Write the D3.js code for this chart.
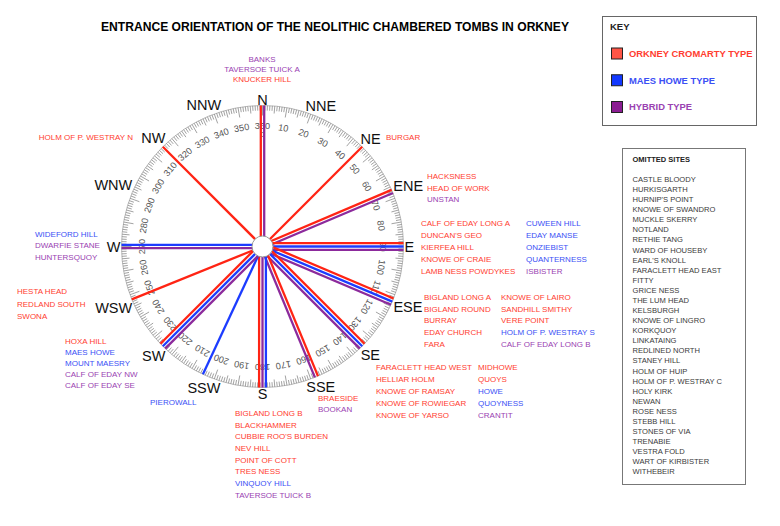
<!DOCTYPE html>
<html>
<head>
<meta charset="utf-8">
<script src="https://cdn.jsdelivr.net/npm/d3@7"></script>
<style>
  body { margin: 0; background: #fff; }
  text { font-family: Arial, "Liberation Sans", Helvetica, sans-serif; }
</style>
</head>
<body>
<svg id="chart" width="780" height="526"></svg>
<script>
// ---- data ----
const compassPoints = ["N", "NNE", "NE", "ENE", "E", "ESE", "SE", "SSE",
  "S", "SSW", "SW", "WSW", "W", "WNW", "NW", "NNW"];
const degreeLabels = d3.range(10, 360, 10);
const typeKeys = ["OC", "MH", "HY"];
const typeNames = ["ORKNEY CROMARTY TYPE", "MAES HOWE TYPE", "HYBRID TYPE"];

// name, type, bearing (degrees) - in the order they are listed on the chart
const siteNames = [
  "BANKS", "TAVERSOE TUICK A", "KNUCKER HILL",
  "BURGAR",
  "HACKSNESS", "HEAD OF WORK", "UNSTAN",
  "CALF OF EDAY LONG A", "DUNCAN'S GEO", "KIERFEA HILL", "KNOWE OF CRAIE", "LAMB NESS POWDYKES",
  "CUWEEN HILL", "EDAY MANSE", "ONZIEBIST", "QUANTERNESS", "ISBISTER",
  "BIGLAND LONG A", "BIGLAND ROUND", "BURRAY", "EDAY CHURCH", "FARA",
  "KNOWE OF LAIRO", "SANDHILL SMITHY", "VERE POINT", "HOLM OF P. WESTRAY S", "CALF OF EDAY LONG B",
  "FARACLETT HEAD WEST", "HELLIAR HOLM", "KNOWE OF RAMSAY", "KNOWE OF ROWIEGAR", "KNOWE OF YARSO",
  "MIDHOWE", "QUOYS", "HOWE", "QUOYNESS", "CRANTIT",
  "BRAESIDE", "BOOKAN",
  "BIGLAND LONG B", "BLACKHAMMER", "CUBBIE ROO'S BURDEN", "NEV HILL", "POINT OF COTT",
  "TRES NESS", "VINQUOY HILL", "TAVERSOE TUICK B",
  "PIEROWALL",
  "HOXA HILL", "MAES HOWE", "MOUNT MAESRY", "CALF OF EDAY NW", "CALF OF EDAY SE",
  "HESTA HEAD", "REDLAND SOUTH", "SWONA",
  "WIDEFORD HILL", "DWARFIE STANE", "HUNTERSQUOY",
  "HOLM OF P. WESTRAY N"
];
const siteTypes = [
  "HY", "HY", "OC",
  "OC",
  "OC", "OC", "HY",
  "OC", "OC", "OC", "OC", "OC",
  "MH", "MH", "MH", "MH", "HY",
  "OC", "OC", "OC", "OC", "OC",
  "OC", "OC", "OC", "MH", "HY",
  "OC", "OC", "OC", "OC", "OC",
  "OC", "OC", "MH", "MH", "HY",
  "OC", "HY",
  "OC", "OC", "OC", "OC", "OC",
  "OC", "MH", "HY",
  "MH",
  "OC", "MH", "MH", "HY", "HY",
  "OC", "OC", "OC",
  "MH", "HY", "HY",
  "OC"
];
const siteBearings = [
  0, 0, 0,
  45,
  67, 67, 67,
  90, 90, 90, 90, 90,
  90, 90, 90, 90, 90,
  113, 113, 113, 113, 113,
  113, 113, 113, 113, 113,
  135, 135, 135, 135, 135,
  135, 135, 135, 135, 135,
  157.5, 157.5,
  180, 180, 180, 180, 180,
  180, 180, 180,
  205,
  225, 225, 225, 225, 225,
  248, 248, 248,
  270, 270, 270,
  315
];

const omittedSites = ["CASTLE BLOODY", "HURKISGARTH", "HURNIP'S POINT", "KNOWE OF SWANDRO",
  "MUCKLE SKERRY", "NOTLAND", "RETHIE TANG", "WARD OF HOUSEBY", "EARL'S KNOLL",
  "FARACLETT HEAD EAST", "FITTY", "GRICE NESS", "THE LUM HEAD", "KELSBURGH",
  "KNOWE OF LINGRO", "KORKQUOY", "LINKATAING", "REDLINED NORTH", "STANEY HILL",
  "HOLM OF HUIP", "HOLM OF P. WESTRAY C", "HOLY KIRK", "NEWAN", "ROSE NESS",
  "STEBB HILL", "STONES OF VIA", "TRENABIE", "VESTRA FOLD", "WART OF KIRBISTER", "WITHEBEIR"];

// ---- layout ----
const cx = 262.5, cy = 246.5, R = 141;
const lineColor = { OC: "#ff2414", MH: "#1c3cff", HY: "#8c2a9c" };
const textColor = { OC: "#ff3d30", MH: "#3b4ff5", HY: "#9a42b2" };
const keyFill = { OC: "#ff5546", MH: "#1238ff", HY: "#8b1d92" };
// side-by-side order of the lines (S is drawn red, purple, blue)
const lineOrder = { 180: ["OC", "HY", "MH"] };

// where each bearing's list of names sits
const labelPlace = {
  0:     { x: 262, y: 62, anchor: "middle", step: 10 },
  45:    { x: 386, y: 140, anchor: "start", step: 12 },
  67:    { x: 427, y: 179, anchor: "start", step: 11.7 },
  90:    { x: 421, y: 225.7, anchor: "start", step: 12, rows: 5, col2: 526 },
  113:   { x: 424, y: 299.7, anchor: "start", step: 11.8, rows: 5, col2: 501 },
  135:   { x: 376, y: 369.7, anchor: "start", step: 12, rows: 5, col2: 478 },
  157.5: { x: 318, y: 401.3, anchor: "start", step: 11 },
  180:   { x: 235, y: 416, anchor: "start", step: 11.67 },
  205:   { x: 150, y: 404.7, anchor: "start", step: 11 },
  225:   { x: 65, y: 343.7, anchor: "start", step: 11 },
  248:   { x: 17, y: 294, anchor: "start", step: 12.5 },
  270:   { x: 35, y: 236.7, anchor: "start", step: 11.5 },
  315:   { x: 133, y: 140, anchor: "end", step: 12 }
};

const svg = d3.select("#chart");
const angle = d3.scaleLinear().domain([0, 360]).range([0, 2 * Math.PI]);
const radius = d3.scaleLinear().domain([0, 1]).range([0, R]);
const px = (deg, r) => cx + r * Math.sin(angle(deg));
const py = (deg, r) => cy - r * Math.cos(angle(deg));

// title
svg.append("text")
  .attr("x", 335).attr("y", 31)
  .attr("text-anchor", "middle")
  .attr("font-size", 12.5).attr("font-weight", "bold")
  .attr("textLength", 468).attr("lengthAdjust", "spacingAndGlyphs")
  .text("ENTRANCE ORIENTATION OF THE NEOLITHIC CHAMBERED TOMBS IN ORKNEY");

// degree ring
const ring = svg.append("g");
ring.append("circle").attr("cx", cx).attr("cy", cy).attr("r", R)
  .attr("fill", "none").attr("stroke", "#aaa").attr("stroke-width", 0.8);
const tickLen = d => d % 10 === 0 ? 10 : d % 5 === 0 ? 7.5 : 5;
ring.selectAll("line.tick").data(d3.range(0, 360)).join("line")
  .attr("x1", d => px(d, R))
  .attr("y1", d => py(d, R))
  .attr("x2", d => px(d, R - tickLen(d)))
  .attr("y2", d => py(d, R - tickLen(d)))
  .attr("stroke", "#8a8a8a").attr("stroke-width", 0.8);

ring.selectAll("text.deg").data(degreeLabels.concat([360])).join("text")
  .attr("transform", d => `translate(${px(d, 120.5)},${py(d, 120.5)}) rotate(${d})`)
  .attr("text-anchor", "middle").attr("dy", "0.35em")
  .attr("font-size", 9.2).attr("fill", "#555")
  .text(d => d);
ring.append("text")
  .attr("x", px(0, 112)).attr("y", py(0, 112))
  .attr("text-anchor", "middle").attr("dy", "0.35em")
  .attr("font-size", 7).attr("fill", "#555").text("0");

// site lines: one per type per bearing, offset side by side
const sites = siteNames.map((name, i) => ({ name, type: siteTypes[i], bearing: siteBearings[i] }));
const groups = d3.group(sites, d => d.bearing);
const gap = 3.4;
const lineData = [];
groups.forEach((list, b) => {
  const order = lineOrder[b] || typeKeys;
  const types = order.filter(t => list.some(s => s.type === t));
  const dx = Math.sin(angle(b)), dy = -Math.cos(angle(b));
  let nx = -dy, ny = dx;
  if (ny < -1e-9 || (Math.abs(ny) < 1e-9 && nx < 0)) { nx = -nx; ny = -ny; }
  types.forEach((t, k) => {
    const off = (k - (types.length - 1) / 2) * gap;
    lineData.push({ b, t, ox: nx * off, oy: ny * off });
  });
});
svg.append("g").selectAll("line").data(lineData).join("line")
  .attr("x1", d => cx + d.ox).attr("y1", d => cy + d.oy)
  .attr("x2", d => px(d.b, radius(1)) + d.ox)
  .attr("y2", d => py(d.b, radius(1)) + d.oy)
  .attr("stroke", d => lineColor[d.t]).attr("stroke-width", 2.3);

svg.append("circle").attr("cx", cx).attr("cy", cy).attr("r", 10.5)
  .attr("fill", "#fff").attr("stroke", "#999").attr("stroke-width", 1);

// compass point labels
const cp = svg.append("g");
compassPoints.forEach((p, i) => {
  const deg = i * 22.5;
  const t = cp.append("text").attr("font-size", 14.5).attr("fill", "#111")
    .attr("text-anchor", "middle").text(p);
  const w = t.node().getComputedTextLength();
  const h = 10.4;
  const s = Math.abs(Math.sin(angle(deg))), c = Math.abs(Math.cos(angle(deg)));
  const dist = 142 + (w / 2) * s + (h / 2) * c;
  t.attr("x", px(deg, dist)).attr("y", py(deg, dist) + h / 2);
});

// site name labels
const lab = svg.append("g").attr("font-size", 8);
groups.forEach((list, b) => {
  const p = labelPlace[b];
  list.forEach((s, i) => {
    const rows = p.rows || 99;
    const col = Math.floor(i / rows), row = i % rows;
    lab.append("text")
      .attr("x", col === 0 ? p.x : p.col2)
      .attr("y", p.y + row * p.step)
      .attr("text-anchor", p.anchor)
      .attr("fill", textColor[s.type])
      .text(s.name);
  });
});

// key
const key = svg.append("g");
key.append("rect").attr("x", 602.5).attr("y", 16.5).attr("width", 154).attr("height", 109)
  .attr("fill", "#fff").attr("stroke", "#666").attr("stroke-width", 1);
key.append("text").attr("x", 610).attr("y", 30).attr("font-size", 9.5)
  .attr("font-weight", "bold").attr("fill", "#222").text("KEY");
const keyY = d3.scalePoint().domain(typeKeys).range([53.5, 107]);
key.selectAll("rect.sw").data(typeKeys).join("rect")
  .attr("x", 611.5).attr("y", d => keyY(d) - 5.5).attr("width", 11).attr("height", 11)
  .attr("fill", d => keyFill[d]).attr("stroke", "#222").attr("stroke-width", 1);
key.selectAll("text.kl").data(typeKeys).join("text")
  .attr("x", 629).attr("y", d => keyY(d) + 3.4)
  .attr("font-size", 9.4).attr("font-weight", "bold")
  .attr("fill", d => textColor[d])
  .text((d, i) => typeNames[i]);

// omitted sites
const om = svg.append("g");
om.append("rect").attr("x", 622.5).attr("y", 148.5).attr("width", 123).attr("height", 336)
  .attr("fill", "#fff").attr("stroke", "#777").attr("stroke-width", 1);
om.append("text").attr("x", 632.5).attr("y", 161.5).attr("font-size", 7.5)
  .attr("font-weight", "bold").attr("fill", "#222").text("OMITTED SITES");
const omY = d3.scaleLinear().domain([0, omittedSites.length - 1]).range([182, 474.3]);
om.selectAll("text.o").data(omittedSites).join("text")
  .attr("x", 632.5).attr("y", (d, i) => omY(i))
  .attr("font-size", 7.6).attr("fill", "#3a3a3a")
  .text(d => d);
</script>
</body>
</html>
